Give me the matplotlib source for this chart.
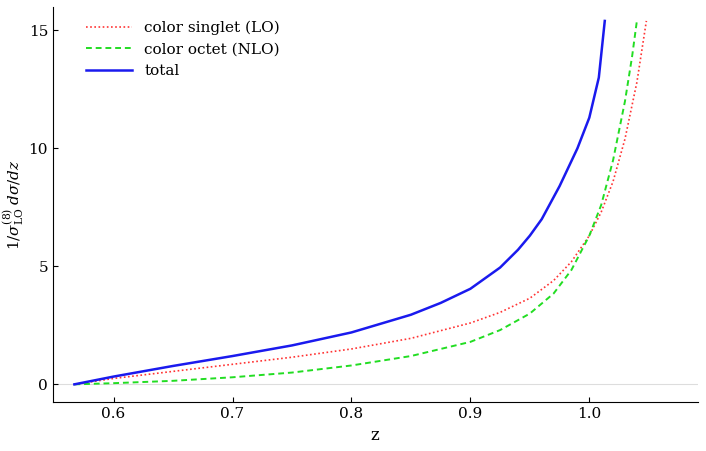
import matplotlib
matplotlib.use("Agg")
import matplotlib.pyplot as plt

z_tot = [0.567, 0.6, 0.65, 0.7, 0.75, 0.8, 0.85, 0.875, 0.9, 0.925, 0.94, 0.95, 0.96, 0.975, 0.99, 1.0, 1.008, 1.013]
y_tot = [0.0, 0.33, 0.78, 1.2, 1.65, 2.2, 2.95, 3.45, 4.05, 4.95, 5.7, 6.3, 7.0, 8.4, 10.0, 11.3, 13.0, 15.4]
z_sing = [0.567, 0.6, 0.65, 0.7, 0.75, 0.8, 0.85, 0.9, 0.925, 0.95, 0.97, 0.985, 1.0, 1.01, 1.02, 1.03, 1.04, 1.048]
y_sing = [0.0, 0.25, 0.55, 0.85, 1.15, 1.5, 1.95, 2.6, 3.05, 3.65, 4.4, 5.2, 6.3, 7.3, 8.6, 10.4, 12.8, 15.4]
z_oct = [0.567, 0.6, 0.65, 0.7, 0.75, 0.8, 0.85, 0.9, 0.925, 0.95, 0.97, 0.985, 1.0, 1.01, 1.02, 1.03, 1.036, 1.04]
y_oct = [0.0, 0.05, 0.15, 0.3, 0.5, 0.8, 1.2, 1.8, 2.3, 3.0, 3.85, 4.85, 6.3, 7.6, 9.5, 12.0, 13.9, 15.4]

plt.rcParams["font.family"] = "DejaVu Serif"
plt.rcParams["mathtext.fontset"] = "dejavuserif"
fig, ax = plt.subplots(figsize=(7.06, 4.51), dpi=100)
fig.subplots_adjust(left=0.075, right=0.988, top=0.985, bottom=0.108)

ax.axhline(0, color="#dddddd", lw=0.8, zorder=0)
ax.plot(z_sing, y_sing, color="#ff3333", ls=(0, (1, 1.5)), lw=1.2, label="color singlet (LO)")
ax.plot(z_oct, y_oct, color="#22dd22", ls=(0, (3, 2)), lw=1.4, label="color octet (NLO)")
ax.plot(z_tot, y_tot, color="#1a1aee", lw=1.8, label="total")

ax.set_xlim(0.549, 1.091)
ax.set_ylim(-0.76, 16.0)
ax.set_xticks([0.6, 0.7, 0.8, 0.9, 1.0])
ax.set_xticklabels(["0.6", "0.7", "0.8", "0.9", "1.0"])
ax.set_yticks([0, 5, 10, 15])
ax.tick_params(labelsize=11, direction="in")
ax.set_xlabel("z", fontsize=12)
ax.set_ylabel(r"$1/\sigma^{(8)}_{\mathrm{LO}}\;d\sigma/dz$", fontsize=11, labelpad=2)
for s in ["top", "right"]:
    ax.spines[s].set_visible(False)
ax.legend(loc="upper left", bbox_to_anchor=(0.03, 1.0), frameon=False, fontsize=11, handlelength=3)
fig.savefig("out.png")
